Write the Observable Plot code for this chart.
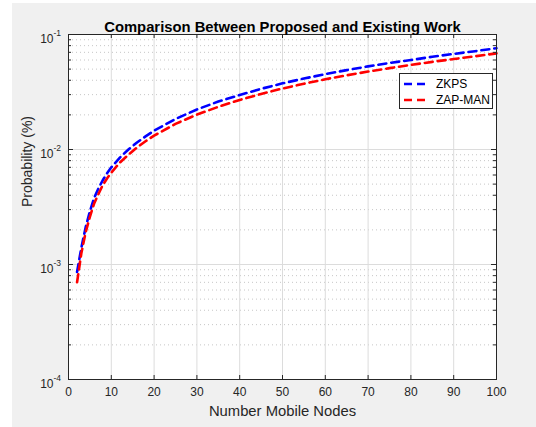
<!DOCTYPE html>
<html><head><meta charset="utf-8">
<script src="https://cdn.jsdelivr.net/npm/d3@7"></script>
<script src="https://cdn.jsdelivr.net/npm/@observablehq/plot@0.6"></script>
<style>
body{margin:0;background:#fff;}
#fig{position:relative;width:536px;height:427px;overflow:hidden;font-family:"Liberation Sans",Arial,sans-serif;}
#bg{position:absolute;left:12px;top:3px;right:0;bottom:0;background:#f0f0f0;}
#chart{position:absolute;left:0;top:0;}
#legend{position:absolute;left:0;top:0;}
</style></head><body>
<div id="fig"><div id="bg"></div><div id="chart"></div><svg id="legend" width="536" height="427"></svg></div>
<script>
const nodes  = [2, 3, 4, 5, 6, 7, 8, 9, 10, 12, 14, 16, 18, 20, 25, 30, 35, 40, 45, 50, 55, 60, 65, 70, 75, 80, 85, 90, 95, 100];
const zkps   = [0.00086, 0.0014, 0.0021, 0.0029, 0.0038, 0.0046, 0.0054, 0.0062, 0.0070, 0.0085, 0.0100, 0.0115, 0.0130, 0.0146, 0.0184, 0.0223, 0.0261, 0.0298, 0.0337, 0.0376, 0.0414, 0.0452, 0.0490, 0.0528, 0.0566, 0.0600, 0.0640, 0.0678, 0.0716, 0.0760];
const zapman = [0.00070, 0.00125, 0.0019, 0.0026, 0.0034, 0.0041, 0.0049, 0.0056, 0.0063, 0.0077, 0.0090, 0.0104, 0.0118, 0.0132, 0.0167, 0.0201, 0.0235, 0.0270, 0.0304, 0.0339, 0.0373, 0.0408, 0.0442, 0.0476, 0.0510, 0.0544, 0.0578, 0.0612, 0.0646, 0.0685];
const seriesNames  = ["ZKPS", "ZAP-MAN"];
const seriesColors = ["#0000ff", "#ff0000"];
const xTicks = [0, 10, 20, 30, 40, 50, 60, 70, 80, 90, 100];
const yMajor = [1e-4, 1e-3, 1e-2, 1e-1];
const yExp   = ["-4", "-3", "-2", "-1"];
const yMinor = [];
for (const d of [1e-4, 1e-3, 1e-2]) for (let k = 2; k <= 9; k++) yMinor.push(+(k * d).toPrecision(3));
const titleText = "Comparison Between Proposed and Existing Work";
const xLabel = "Number Mobile Nodes";
const yLabel = "Probability (%)";

const rows = [
  ...nodes.map((n, i) => ({n, p: zkps[i], s: seriesNames[0]})),
  ...nodes.map((n, i) => ({n, p: zapman[i], s: seriesNames[1]}))
];

const W = 536, H = 427, mL = 68, mR = 40, mT = 34, mB = 48;
const pw = W - mL - mR, ph = H - mT - mB;
const axisCol = "#262626";
const dash = "8,5";

const chart = Plot.plot({
  width: W, height: H,
  marginLeft: mL, marginRight: mR, marginTop: mT, marginBottom: mB,
  style: {background: "transparent", fontFamily: "'Liberation Sans', Arial, sans-serif", overflow: "visible"},
  x: {domain: [0, 100], axis: null},
  y: {type: "log", domain: [1e-4, 1e-1], axis: null},
  marks: [
    Plot.frame({fill: "white", stroke: null}),
    Plot.ruleY(yMinor, {stroke: "#c6c6c6", strokeDasharray: "1,3"}),
    Plot.ruleY(yMajor, {stroke: "#dcdcdc"}),
    Plot.ruleX(xTicks, {stroke: "#dcdcdc"}),
    Plot.line(rows.filter(d => d.s === seriesNames[0]), {x: "n", y: "p", stroke: seriesColors[0], strokeWidth: 2.6, strokeDasharray: dash}),
    Plot.line(rows.filter(d => d.s === seriesNames[1]), {x: "n", y: "p", stroke: seriesColors[1], strokeWidth: 2.6, strokeDasharray: dash}),
    Plot.frame({stroke: axisCol, strokeWidth: 1}),
    // ticks (inward)
    Plot.ruleX(xTicks, {insetTop: ph - 4, stroke: axisCol}),
    Plot.ruleX(xTicks, {insetBottom: ph - 4, stroke: axisCol}),
    Plot.ruleY(yMajor, {insetRight: pw - 5, stroke: axisCol}),
    Plot.ruleY(yMajor, {insetLeft: pw - 5, stroke: axisCol}),
    Plot.ruleY(yMinor, {insetRight: pw - 3, stroke: axisCol}),
    Plot.ruleY(yMinor, {insetLeft: pw - 3, stroke: axisCol}),
    // tick labels
    Plot.text(xTicks, {x: d => d, frameAnchor: "bottom", dy: 16, text: d => String(d), fontSize: 12, fill: axisCol}),
    Plot.text(yMajor, {y: d => d, frameAnchor: "left", dx: -15, dy: 5, textAnchor: "end", text: () => "10", fontSize: 12, fill: axisCol}),
    Plot.text(yMajor, {y: d => d, frameAnchor: "left", dx: -15, dy: -1, textAnchor: "start", text: (d, i) => yExp[i], fontSize: 8.5, fill: axisCol}),
    // title and axis labels
    Plot.text([titleText], {frameAnchor: "top", dy: -13, fontWeight: "bold", fontSize: 14.8, fill: "#000"}),
    Plot.text([xLabel], {frameAnchor: "bottom", dy: 36, fontSize: 14.8, fill: axisCol}),
    Plot.text([yLabel], {frameAnchor: "left", dx: -41, rotate: -90, fontSize: 14, fill: axisCol})
  ]
});
document.getElementById("chart").appendChild(chart);

// legend
const lg = d3.select("#legend").style("font-family", "'Liberation Sans', Arial, sans-serif");
lg.append("rect").attr("x", 399.5).attr("y", 73.5).attr("width", 93).attr("height", 35)
  .attr("fill", "white").attr("stroke", axisCol);
seriesNames.forEach((name, i) => {
  const y = 84 + i * 16;
  lg.append("line").attr("x1", 404).attr("x2", 428).attr("y1", y).attr("y2", y)
    .attr("stroke", seriesColors[i]).attr("stroke-width", 2.6).attr("stroke-dasharray", dash);
  lg.append("text").attr("x", 436).attr("y", y + 4).attr("font-size", 12).attr("fill", "#000").text(name);
});
</script>
</body></html>
